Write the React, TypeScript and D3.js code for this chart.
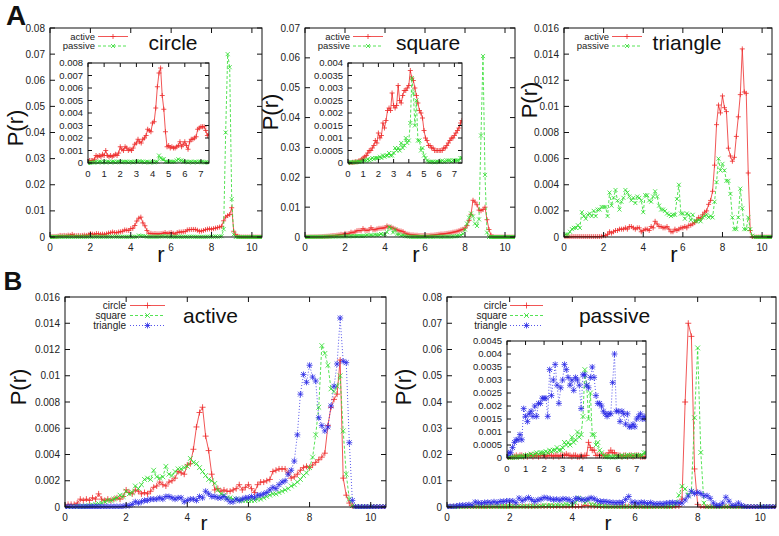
import React from 'react';
import * as d3 from 'd3';

// bin centres of the radial histogram, 0 .. 10.5 in steps of 0.1
const rBins = d3.range(0, 106).map((i) => i / 10);

const circleActive = [
  0.0001, 0.0002, 0.0002, 0.0002, 0.0003, 0.0006, 0.0005, 0.0006, 0.0005, 0.0007,
  0.0006, 0.0010, 0.0006, 0.0005, 0.0006, 0.0005, 0.0006, 0.0007, 0.0006, 0.0008,
  0.0013, 0.0011, 0.0010, 0.0013, 0.0012, 0.0010, 0.0011, 0.0010, 0.0012, 0.0015,
  0.0016, 0.0019, 0.0017, 0.0016, 0.0019, 0.0020, 0.0022, 0.0027, 0.0026, 0.0025,
  0.0032, 0.0033, 0.0044, 0.0061, 0.0072, 0.0076, 0.0054, 0.0043, 0.0025, 0.0013,
  0.0014, 0.0012, 0.0013, 0.0012, 0.0012, 0.0013, 0.0014, 0.0017, 0.0013, 0.0015,
  0.0017, 0.0014, 0.0011, 0.0017, 0.0019, 0.0019, 0.0020, 0.0021, 0.0027, 0.0028,
  0.0029, 0.0029, 0.0029, 0.0026, 0.0022, 0.0023, 0.0025, 0.0028, 0.0030, 0.0031,
  0.0030, 0.0032, 0.0034, 0.0036, 0.0038, 0.0041, 0.0062, 0.0076, 0.0082, 0.0086,
  0.0112, 0.0022, 0.0009, 0.0003, 0.0001, 0, 0, 0, 0, 0,
  0, 0, 0, 0, 0, 0,
];
const circlePassive = [
  0, 0, 0.00005, 0.00005, 0.00005, 0.0001, 0.00005, 0.0001, 0.0001, 0.00005,
  0.0001, 0.00005, 0.0001, 0.0001, 0.00005, 0.0001, 0.0001, 0.00005, 0.0001, 0.0001,
  0.0001, 0.00005, 0.0001, 0.0001, 0.0001, 0.00005, 0.0001, 0.0001, 0.00005, 0.0001,
  0.0001, 0.0001, 0.00015, 0.0001, 0.0001, 0.00005, 0.0001, 0.0001, 0.00005, 0.00005,
  0.0001, 0.00005, 0.0001, 0.0001, 0.0006, 0.0004, 0.0003, 0.0003, 0.0001, 0.0001,
  0.0001, 0.0001, 0.0001, 0.0001, 0.0001, 0.0002, 0.0003, 0.0002, 0.0002, 0.0001,
  0.0001, 0.0001, 0.00005, 0.0001, 0.0001, 0.00005, 0.0001, 0.0001, 0.00005, 0.0001,
  0.0001, 0.0001, 0.00005, 0.00005, 0.00005, 0.00005, 0.00005, 0.00005, 0.0001, 0.0001,
  0.0001, 0.0001, 0.0002, 0.0001, 0.0002, 0.0003, 0.0030, 0.0400, 0.0700, 0.0650,
  0.0145, 0.0010, 0, 0, 0, 0, 0, 0, 0, 0,
  0, 0, 0, 0, 0, 0,
];
const squareActive = [
  0, 0, 0, 0.00003, 0.00003, 0.00005, 0.00005, 0.00008, 0.0001, 0.00015,
  0.0002, 0.00025, 0.0003, 0.0004, 0.0005, 0.0005, 0.0006, 0.0007, 0.0009, 0.0008,
  0.0012, 0.0010, 0.0011, 0.0016, 0.0014, 0.0017, 0.0021, 0.0022, 0.0021, 0.0028,
  0.0023, 0.0022, 0.0023, 0.0031, 0.0025, 0.0024, 0.0027, 0.0029, 0.0029, 0.0030,
  0.0031, 0.0037, 0.0034, 0.0033, 0.0030, 0.0027, 0.0024, 0.0021, 0.0020, 0.0018,
  0.0013, 0.0010, 0.0009, 0.0007, 0.0007, 0.0006, 0.0006, 0.0005, 0.0005, 0.0005,
  0.0005, 0.0005, 0.0005, 0.0006, 0.0006, 0.0007, 0.0008, 0.0009, 0.0010, 0.0010,
  0.0011, 0.0012, 0.0013, 0.0014, 0.0016, 0.0017, 0.0019, 0.0021, 0.0024, 0.0026,
  0.0030, 0.0038, 0.0055, 0.0076, 0.0123, 0.0117, 0.0108, 0.0090, 0.0088, 0.0092,
  0.0100, 0.0058, 0.0025, 0.0006, 0.0001, 0, 0, 0, 0, 0,
  0, 0, 0, 0, 0, 0,
];
const squarePassive = [
  0, 0.00003, 0.00003, 0.00003, 0.00003, 0.00003, 0.00005, 0.00005, 0.00005, 0.00005,
  0.0001, 0.0001, 0.0001, 0.00015, 0.0001, 0.00015, 0.0002, 0.00015, 0.0002, 0.0002,
  0.0002, 0.00025, 0.0002, 0.0003, 0.00025, 0.0003, 0.0003, 0.0004, 0.0003, 0.0003,
  0.0004, 0.0006, 0.0005, 0.0006, 0.0005, 0.0008, 0.0006, 0.0007, 0.0010, 0.0008,
  0.0009, 0.0016, 0.0034, 0.0028, 0.0015, 0.0025, 0.0009, 0.0009, 0.0005, 0.0006,
  0.0003, 0.0002, 0.0001, 0.00005, 0.00005, 0.00005, 0.00005, 0.00003, 0.00005, 0.00005,
  0.00005, 0.00005, 0.0001, 0.00005, 0.00005, 0.0001, 0.0001, 0.0001, 0.00005, 0.0001,
  0.0001, 0.0001, 0.0001, 0.0001, 0.0002, 0.0002, 0.0003, 0.0004, 0.0006, 0.0011,
  0.0025, 0.0045, 0.0065, 0.0079, 0.0069, 0.0045, 0.0037, 0.0059, 0.0340, 0.0606,
  0.0208, 0.0015, 0, 0, 0, 0, 0, 0, 0, 0,
  0, 0, 0, 0, 0, 0,
];
const triangleActive = [
  0, 0.00003, 0.00003, 0, 0.00003, 0.00003, 0.00003, 0.00003, 0.00003, 0.00003,
  0.00003, 0.00003, 0.00003, 0.00003, 0.00003, 0.00003, 0.00003, 0.00003, 0.00003, 0.00005,
  0.0001, 0.0001, 0.0002, 0.0004, 0.0003, 0.0004, 0.0005, 0.0005, 0.0006, 0.0006,
  0.0006, 0.0007, 0.0006, 0.0008, 0.0008, 0.0007, 0.0006, 0.0007, 0.0007, 0.0004,
  0.0005, 0.0006, 0.0006, 0.0005, 0.0008, 0.0007, 0.0012, 0.0010, 0.0008, 0.0008,
  0.0007, 0.0007, 0.0008, 0.0006, 0.0004, 0.0004, 0.0006, 0.0005, 0.0006, 0.0007,
  0.0007, 0.0008, 0.0007, 0.0009, 0.0009, 0.0010, 0.0011, 0.0013, 0.0015, 0.0014,
  0.0017, 0.0019, 0.0020, 0.0025, 0.0028, 0.0035, 0.0055, 0.0086, 0.0101, 0.0095,
  0.0108, 0.0099, 0.0096, 0.0068, 0.0062, 0.0058, 0.0061, 0.0077, 0.0092, 0.0109,
  0.0144, 0.0111, 0.0110, 0.0049, 0.0005, 0, 0, 0, 0, 0,
  0, 0, 0, 0, 0, 0,
];
const trianglePassive = [
  0.0001, 0.0002, 0.0002, 0.0004, 0.0006, 0.0007, 0.0007, 0.0009, 0.0007, 0.0019,
  0.0016, 0.0014, 0.0017, 0.0018, 0.0016, 0.0020, 0.0016, 0.0021, 0.0021, 0.0023,
  0.0023, 0.0023, 0.0016, 0.0034, 0.0024, 0.0030, 0.0036, 0.0028, 0.0021, 0.0027,
  0.0030, 0.0036, 0.0034, 0.0031, 0.0028, 0.0030, 0.0026, 0.0031, 0.0030, 0.0028,
  0.0019, 0.0032, 0.0032, 0.0028, 0.0027, 0.0031, 0.0035, 0.0031, 0.0024, 0.0021,
  0.0021, 0.0020, 0.0018, 0.0017, 0.0016, 0.0017, 0.0017, 0.0029, 0.0040, 0.0018,
  0.0018, 0.0014, 0.0018, 0.0017, 0.0013, 0.0017, 0.0012, 0.0012, 0.0013, 0.0012,
  0.0015, 0.0016, 0.0017, 0.0015, 0.0016, 0.0015, 0.0027, 0.0042, 0.0060, 0.0051,
  0.0056, 0.0051, 0.0043, 0.0043, 0.0033, 0.0015, 0.0006, 0.0006, 0.0015, 0.0037,
  0.0022, 0.0006, 0.0006, 0.0015, 0.0006, 0.0001, 0, 0, 0, 0,
  0, 0, 0, 0, 0, 0,
];

// in the big panel B (passive) the circle and square peaks sit further in; r >= 7.0 read separately
const circlePassiveTailB = [
  0.0001, 0.0001, 0.00005, 0.0001, 0.0002, 0.0030, 0.0400, 0.0700, 0.0650, 0.0145,
  0.0010, 0, 0, 0, 0, 0, 0, 0, 0, 0,
  0, 0, 0, 0, 0, 0, 0, 0, 0, 0,
  0, 0, 0, 0, 0, 0,
];
const squarePassiveTailB = [
  0.0001, 0.0002, 0.0004, 0.0011, 0.0045, 0.0079, 0.0069, 0.0045, 0.0059, 0.0340,
  0.0606, 0.0208, 0.0015, 0, 0, 0, 0, 0, 0, 0,
  0, 0, 0, 0, 0, 0, 0, 0, 0, 0,
  0, 0, 0, 0, 0, 0,
];
const circlePassiveB = circlePassive.slice(0, 70).concat(circlePassiveTailB);
const squarePassiveB = squarePassive.slice(0, 70).concat(squarePassiveTailB);

const xTicksMain = [0, 2, 4, 6, 8, 10];
const xTicksInset = [0, 1, 2, 3, 4, 5, 6, 7];
const yTicks008 = [0, 0.01, 0.02, 0.03, 0.04, 0.05, 0.06, 0.07, 0.08];
const yTicks007 = [0, 0.01, 0.02, 0.03, 0.04, 0.05, 0.06, 0.07];
const yTicks016 = [0, 0.002, 0.004, 0.006, 0.008, 0.01, 0.012, 0.014, 0.016];
const yTicksIn008 = [0, 0.001, 0.002, 0.003, 0.004, 0.005, 0.006, 0.007, 0.008];
const yTicksIn004 = [0, 0.0005, 0.001, 0.0015, 0.002, 0.0025, 0.003, 0.0035, 0.004];
const yTicksIn0045 = [0, 0.0005, 0.001, 0.0015, 0.002, 0.0025, 0.003, 0.0035, 0.004, 0.0045];

const FONT = "'Liberation Sans', Arial, Helvetica, sans-serif";
const RED = '#ee2b2b';
const GREEN = '#2bdc2b';
const BLUE = '#2b2be6';

type Mark = 'plus' | 'cross' | 'star';
interface Series {
  values: number[];
  color: string;
  dash?: string;
  mark: Mark;
  label: string;
}

function markPath(cx: number, cy: number, s: number, mark: Mark) {
  let d = '';
  if (mark === 'plus' || mark === 'star') d += `M${cx - s},${cy}H${cx + s}M${cx},${cy - s}V${cy + s}`;
  if (mark === 'cross' || mark === 'star') {
    const k = s * 0.8;
    d += `M${cx - k},${cy - k}L${cx + k},${cy + k}M${cx - k},${cy + k}L${cx + k},${cy - k}`;
  }
  return d;
}

interface PlotProps {
  id: string;
  l: number; r: number; t: number; b: number;
  xMax: number; yMax: number;
  xTicks: number[]; yTicks: number[];
  series: Series[];
  fs: number; tick: number; ms: number;
  inset?: boolean;
}

function Plot(p: PlotProps) {
  const x = d3.scaleLinear().domain([0, p.xMax]).range([p.l, p.r]);
  const y = d3.scaleLinear().domain([0, p.yMax]).range([p.b, p.t]);
  const idx = rBins.map((_, i) => i).filter((i) => rBins[i] <= p.xMax + 0.06);
  return (
    <g>
      {p.inset && <rect x={p.l} y={p.t} width={p.r - p.l} height={p.b - p.t} fill="#fff" />}
      <clipPath id={p.id}>
        <rect x={p.l} y={p.t - 2} width={p.r - p.l} height={p.b - p.t + 4} />
      </clipPath>
      <g clipPath={`url(#${p.id})`}>
        {p.series.map((s, si) => {
          const line = d3
            .line<number>()
            .x((i) => x(rBins[i]))
            .y((i) => y(s.values[i]));
          const marks = idx.map((i) => markPath(x(rBins[i]), y(s.values[i]), p.ms, s.mark)).join('');
          return (
            <g key={si}>
              <path d={line(idx) || ''} fill="none" stroke={s.color} strokeWidth={0.8} strokeDasharray={s.dash} />
              <path d={marks} fill="none" stroke={s.color} strokeWidth={0.8} />
            </g>
          );
        })}
      </g>
      <g stroke="#111" strokeWidth={1}>
        {p.xTicks.map((v) => (
          <g key={'x' + v}>
            <line x1={x(v)} x2={x(v)} y1={p.b} y2={p.b - p.tick} />
            <line x1={x(v)} x2={x(v)} y1={p.t} y2={p.t + p.tick} />
          </g>
        ))}
        {p.yTicks.map((v) => (
          <g key={'y' + v}>
            <line x1={p.l} x2={p.l + p.tick} y1={y(v)} y2={y(v)} />
            <line x1={p.r} x2={p.r - p.tick} y1={y(v)} y2={y(v)} />
          </g>
        ))}
        <rect x={p.l} y={p.t} width={p.r - p.l} height={p.b - p.t} fill="none" />
      </g>
      <g fontFamily={FONT} fontSize={p.fs} fill="#222">
        {p.xTicks.map((v) => (
          <text key={'xl' + v} x={x(v)} y={p.b + p.fs + 4} textAnchor="middle">
            {String(v)}
          </text>
        ))}
        {p.yTicks.map((v) => (
          <text key={'yl' + v} x={p.l - 5} y={y(v)} dy="0.35em" textAnchor="end">
            {String(v)}
          </text>
        ))}
      </g>
    </g>
  );
}

interface LegendProps {
  series: Series[];
  textX: number; x1: number; x2: number; y0: number; dy: number; fs: number; ms: number;
}

function Legend(p: LegendProps) {
  return (
    <g>
      {p.series.map((s, i) => {
        const yy = p.y0 + i * p.dy;
        return (
          <g key={i}>
            <text x={p.textX} y={yy} dy="0.35em" textAnchor="end" fontFamily={FONT} fontSize={p.fs} fill="#222">
              {s.label}
            </text>
            <line x1={p.x1} x2={p.x2} y1={yy} y2={yy} stroke={s.color} strokeWidth={0.8} strokeDasharray={s.dash} />
            <path d={markPath((p.x1 + p.x2) / 2, yy, p.ms, s.mark)} stroke={s.color} strokeWidth={0.8} fill="none" />
          </g>
        );
      })}
    </g>
  );
}

function Label({ x, y, text, size, rotate, bold }: { x: number; y: number; text: string; size: number; rotate?: boolean; bold?: boolean }) {
  return (
    <text
      x={x}
      y={y}
      textAnchor="middle"
      fontFamily={FONT}
      fontSize={size}
      fontWeight={bold ? 'bold' : 'normal'}
      fill="#111"
      transform={rotate ? `rotate(-90 ${x} ${y})` : undefined}
    >
      {text}
    </text>
  );
}

export default function App() {
  const act = (values: number[], label = 'active'): Series => ({ values, color: RED, mark: 'plus', label });
  const pas = (values: number[], label = 'passive'): Series => ({ values, color: GREEN, dash: '3,2', mark: 'cross', label });
  const tri = (values: number[]): Series => ({ values, color: BLUE, dash: '1,2', mark: 'star', label: 'triangle' });

  const circleSet = [act(circleActive), pas(circlePassive)];
  const squareSet = [act(squareActive), pas(squarePassive)];
  const triangleSet = [act(triangleActive), pas(trianglePassive)];
  const activeSet = [act(circleActive, 'circle'), pas(squareActive, 'square'), tri(triangleActive)];
  const passiveSet = [act(circlePassiveB, 'circle'), pas(squarePassiveB, 'square'), tri(trianglePassive)];
  const passiveInsetSet = [act(circlePassive, 'circle'), pas(squarePassive, 'square'), tri(trianglePassive)];

  const aPanels = [
    { id: 'ac', l: 50, r: 262, yMax: 0.08, yTicks: yTicks008, set: circleSet, title: 'circle', py: 128, rx: 161 },
    { id: 'as', l: 305, r: 515, yMax: 0.07, yTicks: yTicks007, set: squareSet, title: 'square', py: 112, rx: 416 },
    { id: 'at', l: 564, r: 772, yMax: 0.016, yTicks: yTicks016, set: triangleSet, title: 'triangle', py: 100, rx: 674 },
  ];

  return (
    <svg width={779} height={536} style={{ position: 'absolute', left: 0, top: 0, background: '#fff' }}>
      <rect width={779} height={536} fill="#fff" />
      <Label x={16} y={25} text="A" size={28} bold />
      <Label x={13} y={290} text="B" size={26} bold />

      {aPanels.map((a) => (
        <g key={a.id}>
          <Plot id={a.id} l={a.l} r={a.r} t={28} b={237} xMax={10.5} yMax={a.yMax} xTicks={xTicksMain} yTicks={a.yTicks} series={a.set} fs={10} tick={5} ms={2.5} />
          <Legend series={a.set} textX={a.l + 45} x1={a.l + 48} x2={a.l + 78} y0={36.5} dy={9.5} fs={9.5} ms={2.5} />
          <Label x={a.l + 123} y={50} text={a.title} size={21} />
          <Label x={a.l - 27} y={a.py} text="P(r)" size={22} rotate />
          <Label x={a.rx} y={262} text="r" size={22} />
        </g>
      ))}

      <Plot id="ic" l={88} r={209} t={63} b={163} xMax={7.5} yMax={0.008} xTicks={xTicksInset} yTicks={yTicksIn008} series={circleSet} fs={9.5} tick={4} ms={2.5} inset />
      <Plot id="is" l={348} r={462} t={63} b={163} xMax={7.5} yMax={0.004} xTicks={xTicksInset} yTicks={yTicksIn004} series={squareSet} fs={9.5} tick={4} ms={2.5} inset />

      <Plot id="ba" l={65} r={386} t={297} b={507} xMax={10.5} yMax={0.016} xTicks={xTicksMain} yTicks={yTicks016} series={activeSet} fs={10} tick={5} ms={3} />
      <Legend series={activeSet} textX={126} x1={130} x2={165} y0={305.5} dy={10} fs={10} ms={3} />
      <Label x={210.5} y={323} text="active" size={21} />
      <Label x={25.5} y={387} text="P(r)" size={22} rotate />
      <Label x={204} y={530} text="r" size={21} />

      <Plot id="bp" l={447} r={776} t={297} b={507} xMax={10.5} yMax={0.08} xTicks={xTicksMain} yTicks={yTicks008} series={passiveSet} fs={10} tick={5} ms={3} />
      <Plot id="ip" l={507} r={646} t={341} b={458} xMax={7.5} yMax={0.0045} xTicks={xTicksInset} yTicks={yTicksIn0045} series={passiveInsetSet} fs={9.5} tick={4} ms={3} inset />
      <Legend series={passiveSet} textX={507} x1={510} x2={543} y0={305.5} dy={10} fs={10} ms={3} />
      <Label x={614.5} y={323} text="passive" size={21} />
      <Label x={410.5} y={387} text="P(r)" size={22} rotate />
      <Label x={608} y={530} text="r" size={21} />
    </svg>
  );
}
